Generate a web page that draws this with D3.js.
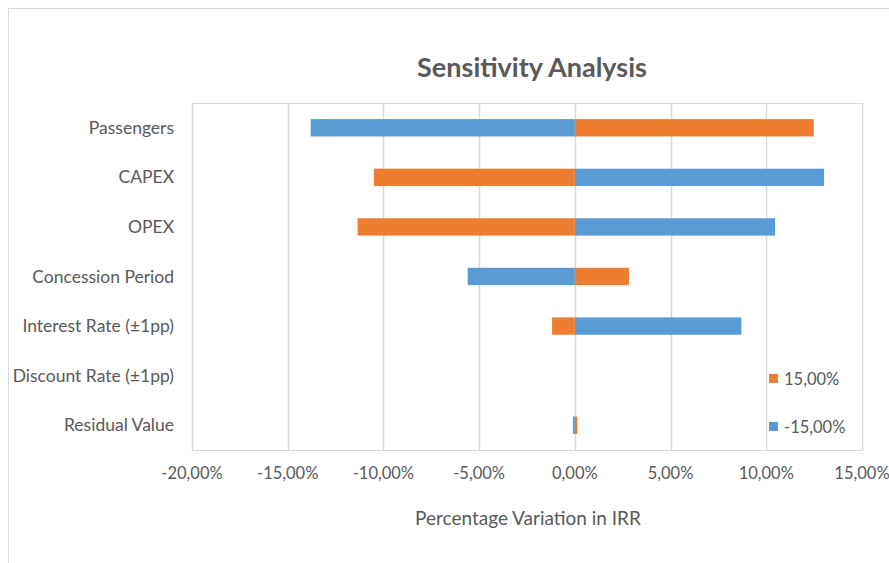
<!DOCTYPE html>
<html>
<head>
<meta charset="utf-8">
<script src="https://cdn.jsdelivr.net/npm/d3@7"></script>
<style>
  body { margin: 0; background: #fff; }
  text { font-family: Lato, "Open Sans", sans-serif; fill: #595959; }
</style>
</head>
<body>
<script>
// categories top to bottom
var categories = ["Passengers", "CAPEX", "OPEX", "Concession Period",
  "Interest Rate (\u00b11pp)", "Discount Rate (\u00b11pp)", "Residual Value"];

// variation in IRR (fraction) for +15% input change
var plus15 = [0.1248, -0.1050, -0.1135, 0.0283, -0.0119, 0, 0.0013];
// variation in IRR (fraction) for -15% input change
var minus15 = [-0.1380, 0.1302, 0.1046, -0.0560, 0.0870, 0, -0.0010];

var xTicks = [-0.20, -0.15, -0.10, -0.05, 0, 0.05, 0.10, 0.15];
var seriesNames = ["15,00%", "-15,00%"];

var width = 889, height = 563;
var svg = d3.select("body").append("svg")
  .attr("width", width)
  .attr("height", height);

// outer chart border
svg.append("rect")
  .attr("x", 8.5).attr("y", 8.5)
  .attr("width", 900).attr("height", 570)
  .attr("fill", "none")
  .attr("stroke", "#d9d9d9");

var x = d3.scaleLinear().domain([-0.20, 0.15]).range([192, 862]);
var y = d3.scaleBand().domain(categories).range([103, 450]);
var barH = y.bandwidth() * 0.35;

var locale = d3.formatLocale({ decimal: ",", thousands: ".", grouping: [3], currency: ["", "€"], minus: "-" });
var fmt = locale.format(".2%");

// plot area border
svg.append("rect")
  .attr("x", 192.5).attr("y", 103.5)
  .attr("width", 862 - 192).attr("height", 450 - 103)
  .attr("fill", "none")
  .attr("stroke", "#d9d9d9");

// gridlines
svg.append("g").selectAll("line")
  .data(xTicks)
  .enter().append("line")
  .attr("x1", function (d) { return Math.round(x(d)) + 0.5; })
  .attr("x2", function (d) { return Math.round(x(d)) + 0.5; })
  .attr("y1", 103)
  .attr("y2", 450)
  .attr("stroke", "#d9d9d9")
  .attr("stroke-width", 1.5);

// x tick labels
svg.append("g").selectAll("text")
  .data(xTicks)
  .enter().append("text")
  .attr("x", function (d) { return x(d); })
  .attr("y", 479)
  .attr("text-anchor", "middle")
  .style("font-size", "16.5px")
  .text(function (d) { return fmt(d); });

// category labels
svg.append("g").selectAll("text")
  .data(categories)
  .enter().append("text")
  .attr("x", 174)
  .attr("y", function (d) { return y(d) + y.bandwidth() / 2 + 6; })
  .attr("text-anchor", "end")
  .style("font-size", "17.5px")
  .text(function (d) { return d; });

// bars for both series
var series = [
  { name: seriesNames[1], values: minus15, color: "#5b9bd5" },
  { name: seriesNames[0], values: plus15, color: "#ed7d31" }
];
series.forEach(function (s) {
  svg.append("g").selectAll("rect")
    .data(categories)
    .enter().append("rect")
    .attr("x", function (d, i) { return x(Math.min(0, s.values[i])); })
    .attr("y", function (d) { return y(d) + (y.bandwidth() - barH) / 2; })
    .attr("width", function (d, i) { return Math.abs(x(s.values[i]) - x(0)); })
    .attr("height", barH)
    .attr("fill", s.color);
});

// title
svg.append("text")
  .attr("x", 532)
  .attr("y", 77)
  .attr("text-anchor", "middle")
  .style("font-size", "27px")
  .style("font-weight", "bold")
  .text("Sensitivity Analysis");

// axis title
svg.append("text")
  .attr("x", 528)
  .attr("y", 525)
  .attr("text-anchor", "middle")
  .style("font-size", "19px")
  .text("Percentage Variation in IRR");

// legend
var legend = [
  { name: seriesNames[0], color: "#ed7d31", y: 379 },
  { name: seriesNames[1], color: "#5b9bd5", y: 427 }
];
var lg = svg.append("g").selectAll("g")
  .data(legend)
  .enter().append("g");
lg.append("rect")
  .attr("x", 769)
  .attr("y", function (d) { return d.y - 5; })
  .attr("width", 9)
  .attr("height", 9)
  .attr("fill", function (d) { return d.color; });
lg.append("text")
  .attr("x", 784)
  .attr("y", function (d) { return d.y + 6; })
  .style("font-size", "16.5px")
  .text(function (d) { return d.name; });
</script>
</body>
</html>
